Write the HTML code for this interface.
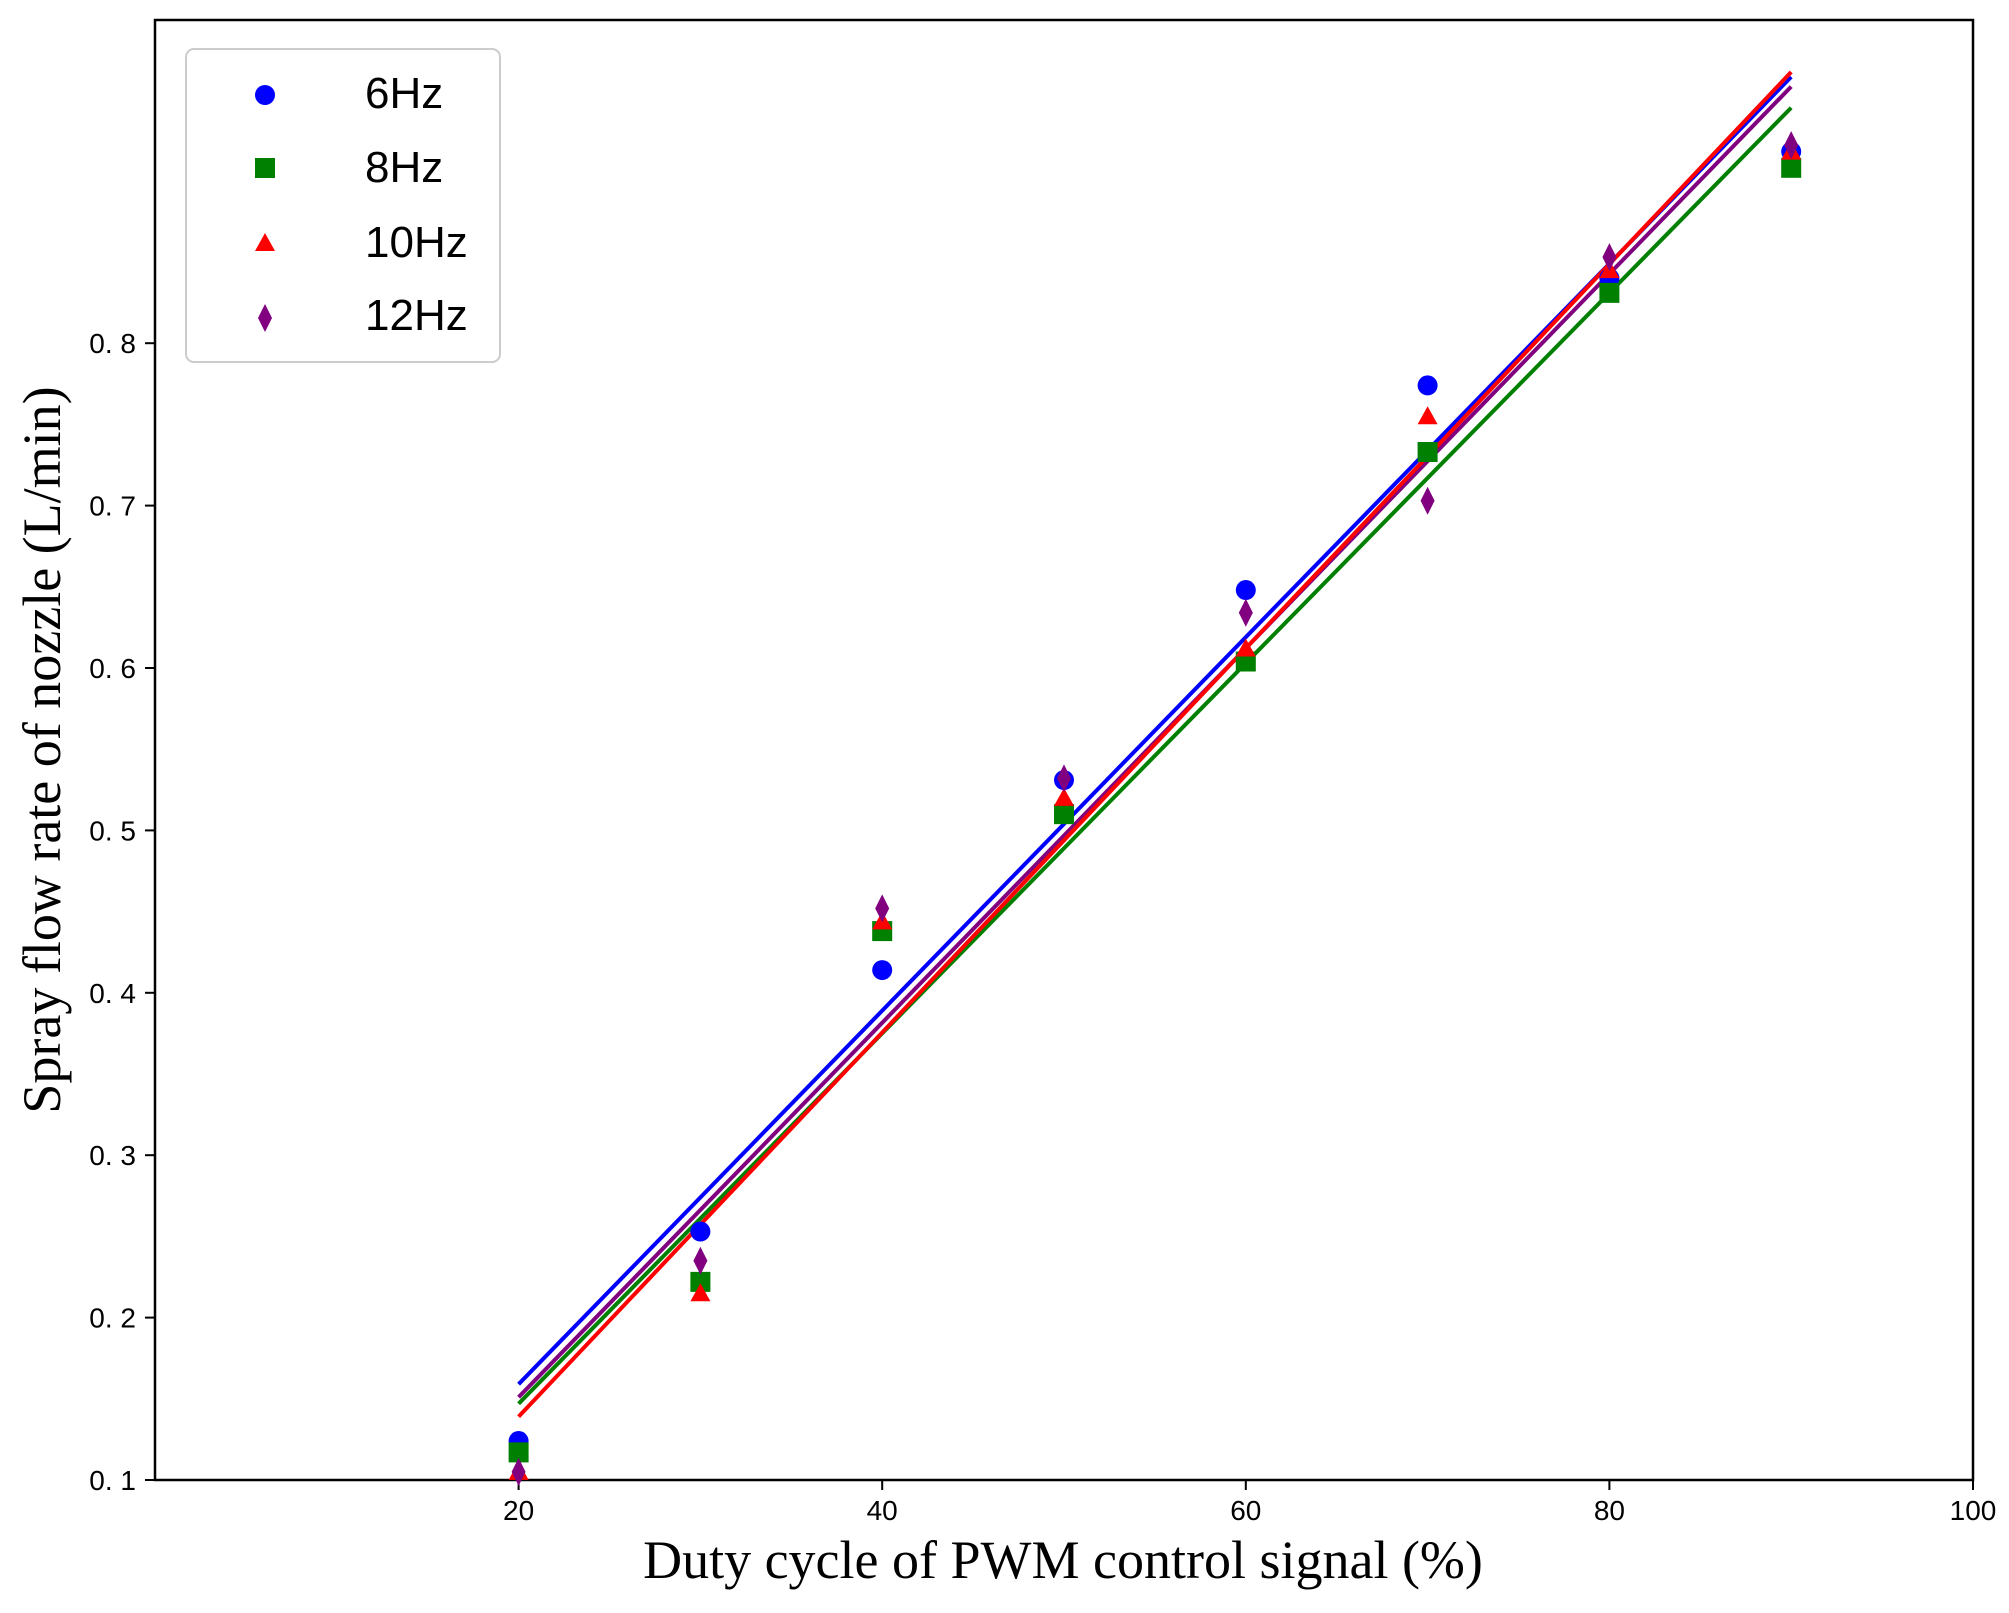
<!DOCTYPE html>
<html><head><meta charset="utf-8"><style>
html,body{margin:0;padding:0;background:#fff;}
svg{display:block;}
.tk{font-family:"Liberation Sans","Noto Sans CJK SC",sans-serif;font-size:28px;fill:#000;}
.ax{font-family:"Liberation Serif",serif;font-size:54px;fill:#000;}
.lg{font-family:"Liberation Sans","Noto Sans CJK SC",sans-serif;font-size:44px;fill:#000;}
</style></head><body>
<svg id="s" width="2009" height="1613" xmlns="http://www.w3.org/2000/svg">
<rect x="155" y="20" width="1818" height="1460" fill="none" stroke="#000" stroke-width="2.5"/>
<g id="ticks"></g>
<g id="lines"></g>
<g id="pts"></g>
<text class="ax" x="1063" y="1578" text-anchor="middle">Duty cycle of PWM control signal (%)</text>
<text class="ax" transform="translate(60,750) rotate(-90)" text-anchor="middle">Spray flow rate of nozzle (L/min)</text>
<rect x="186" y="49" width="314" height="313" rx="8" fill="#fff" stroke="#ccc" stroke-width="2"/>
<circle cx="265" cy="95" r="10" fill="#0000ff"/>
<rect x="255" y="158" width="20" height="20" fill="#008000"/>
<polygon points="265,233 255,251 275,251" fill="#ff0000"/>
<polygon points="265,304 272,318 265,332 258,318" fill="#800080"/>
<text class="lg" x="365" y="108">6Hz</text>
<text class="lg" x="365" y="182">8Hz</text>
<text class="lg" x="365" y="257">10Hz</text>
<text class="lg" x="365" y="330">12Hz</text>
</svg>
<script>
const NS="http://www.w3.org/2000/svg";
const X=x=>155+x*18.18, Y=v=>1480-(v-0.1)*1624;
function el(p,t,a,txt){const e=document.createElementNS(NS,t);for(const k in a)e.setAttribute(k,a[k]);if(txt)e.textContent=txt;document.getElementById(p).appendChild(e);return e;}
[20,40,60,80,100].forEach(x=>{el('ticks','line',{x1:X(x),x2:X(x),y1:1480,y2:1490,stroke:'#000','stroke-width':2});el('ticks','text',{x:X(x),y:1520,'text-anchor':'middle',class:'tk'},String(x));});
[0.1,0.2,0.3,0.4,0.5,0.6,0.7,0.8].forEach(v=>{el('ticks','line',{x1:145,x2:155,y1:Y(v),y2:Y(v),stroke:'#000','stroke-width':2});el('ticks','text',{x:136,y:Y(v)+10,'text-anchor':'end',class:'tk'},v.toFixed(1).replace('.','. '));});
const L=[['#0000ff',0.159,0.964],['#008000',0.147,0.945],['#800080',0.151,0.958],['#ff0000',0.139,0.967]];
L.forEach(l=>el('lines','line',{x1:X(20),y1:Y(l[1]),x2:X(90),y2:Y(l[2]),stroke:l[0],'stroke-width':4}));
const xs=[20,30,40,50,60,70,80,90];
const d6=[0.124,0.253,0.414,0.531,0.648,0.774,0.840,0.918];
const d8=[0.117,0.222,0.438,0.510,0.604,0.733,0.831,0.908];
const d10=[0.105,0.215,0.444,0.520,0.612,0.755,0.845,0.918];
const d12=[0.105,0.235,0.452,0.532,0.634,0.703,0.853,0.922];
xs.forEach((x,i)=>{const cx=X(x);
 el('pts','circle',{cx:cx,cy:Y(d6[i]),r:10,fill:'#0000ff'});
 el('pts','rect',{x:cx-10,y:Y(d8[i])-10,width:20,height:20,fill:'#008000'});
 let y=Y(d10[i]);el('pts','polygon',{points:`${cx},${y-10} ${cx-10},${y+8} ${cx+10},${y+8}`,fill:'#ff0000'});
 y=Y(d12[i]);el('pts','polygon',{points:`${cx},${y-14} ${cx+7},${y} ${cx},${y+14} ${cx-7},${y}`,fill:'#800080'});
});
</script>
</body></html>
